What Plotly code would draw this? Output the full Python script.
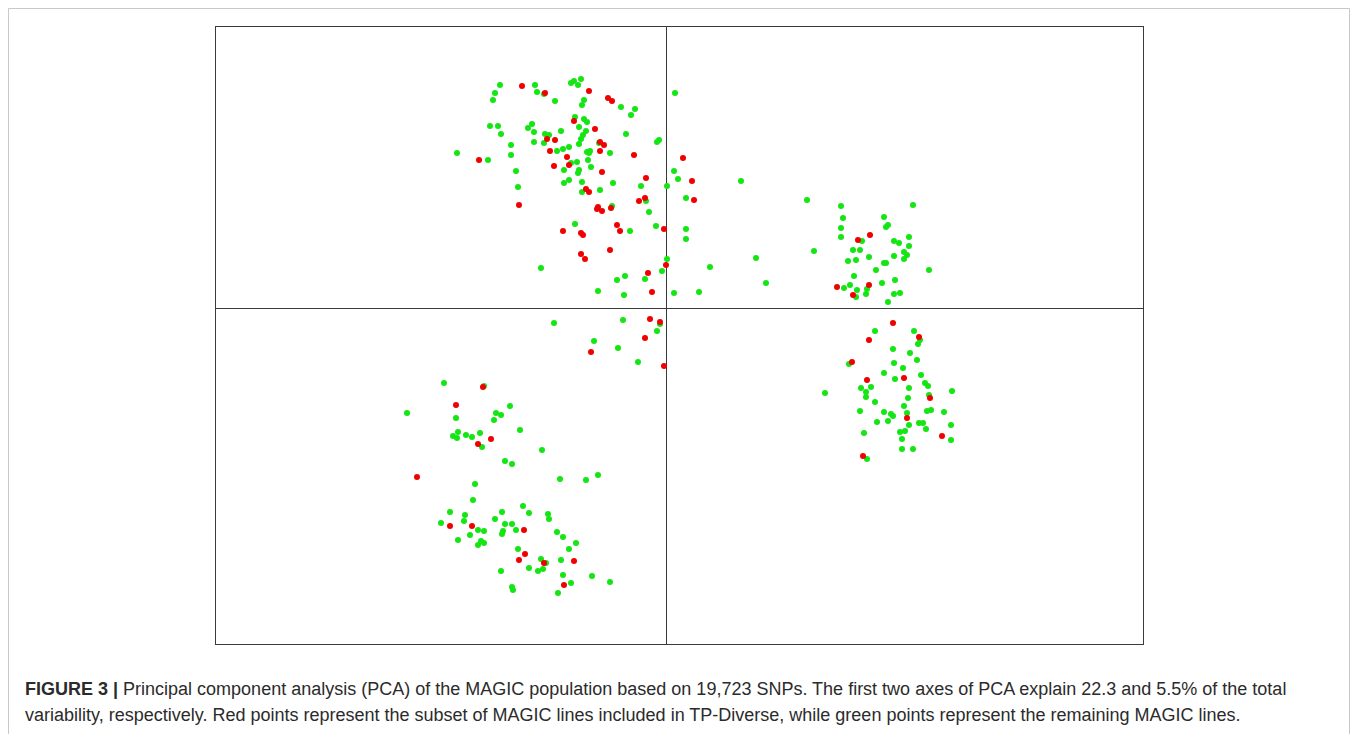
import plotly.graph_objects as go

# PCA scores (arbitrary units): PC1 horizontal, PC2 vertical
green_pc1_px = [500,495,493,535,537,544,555,571,574,581,578,584,582,575,584,587,490,498,501,532,528,534,545,549,561,579,586,583,581,579,534,544,511,511,457,488,557,563,569,587,588,577,571,564,579,578,516,518,569,564,582,
675,621,635,631,626,659,657,599,590,589,610,591,674,678,613,641,667,
600,582,646,612,649,656,630,686,686,686,667,710,662,625,617,645,598,624,674,699,575,541,
741,756,766,
554,623,660,657,594,618,638,
807,841,913,843,841,884,888,886,841,862,894,899,909,909,814,853,860,904,907,894,904,848,856,869,884,886,876,929,854,895,882,844,850,857,867,866,856,894,900,888,
875,914,920,918,893,910,917,894,849,903,884,895,921,925,928,861,871,866,866,909,929,908,825,952,875,904,860,884,891,893,907,927,931,944,877,888,909,919,923,951,864,900,905,926,902,951,902,913,867,
444,484,407,456,510,496,501,494,520,453,458,457,466,472,480,482,542,505,512,560,586,598,475,
473,450,465,464,441,523,529,502,495,505,512,548,549,478,484,503,502,516,470,458,481,484,478,557,563,576,569,518,541,546,561,529,543,538,501,592,610,563,571,512,513,558]
green_pc2_px = [85,93,100,85,92,94,101,83,81,79,85,100,105,117,119,122,126,126,134,124,128,132,134,135,131,127,131,135,139,144,142,143,145,155,153,160,151,149,147,152,160,162,163,170,170,173,171,187,180,183,182,
93,107,109,115,134,140,142,143,151,153,153,167,171,179,183,186,186,
190,192,201,206,212,226,231,198,229,239,259,267,271,276,280,279,291,295,293,292,224,268,
181,258,283,
323,320,324,331,341,348,362,
200,206,205,218,228,217,225,227,237,241,241,243,237,246,251,250,250,252,255,256,259,261,260,257,263,263,270,270,276,280,283,288,285,290,289,294,297,294,293,302,
331,331,340,344,349,353,360,363,364,368,373,379,375,383,386,388,387,392,397,388,395,398,393,391,402,406,411,412,414,416,413,411,410,412,422,421,425,423,423,425,433,432,431,429,439,440,449,449,459,
383,386,413,418,406,413,415,420,430,436,432,438,435,437,433,447,450,461,464,479,480,475,484,
500,512,515,521,523,506,513,512,519,524,524,514,519,530,531,531,534,530,535,540,541,543,545,532,537,543,549,549,559,563,560,568,569,571,571,576,582,575,583,587,590,593]

red_pc1_px = [522,545,589,574,555,547,550,567,569,554,479,586,589,
608,612,595,600,604,600,634,683,602,646,692,694,
519,639,645,598,597,602,611,617,620,664,581,583,563,610,581,585,666,648,652,
650,660,645,591,664,
870,858,837,869,853,
893,869,919,852,867,904,930,907,942,863,
483,456,491,478,417,
450,472,524,525,519,544,574,564]
red_pc2_px = [86,93,91,121,140,139,151,157,165,166,160,189,192,
98,101,129,142,145,151,155,158,172,178,181,200,
205,201,198,207,209,211,208,225,231,229,233,235,231,250,254,259,265,273,292,
319,322,338,352,366,
235,240,287,285,295,
323,340,337,362,380,378,398,418,436,456,
387,405,439,444,477,
526,526,530,554,560,563,561,585]

# convert picture readings to PC units (origin at the crosshair)
def to_pc1(v):
    return [(p - 666) / 10 for p in v]

def to_pc2(v):
    return [(308 - p) / 10 for p in v]

green_pc1 = to_pc1(green_pc1_px)
green_pc2 = to_pc2(green_pc2_px)
red_pc1 = to_pc1(red_pc1_px)
red_pc2 = to_pc2(red_pc2_px)

fig = go.Figure()
fig.add_trace(go.Scatter(x=green_pc1, y=green_pc2, mode="markers",
                         marker=dict(color="#14e614", size=6, line=dict(width=0)),
                         name="Remaining MAGIC lines", hoverinfo="skip"))
fig.add_trace(go.Scatter(x=red_pc1, y=red_pc2, mode="markers",
                         marker=dict(color="#f00000", size=6, line=dict(width=0)),
                         name="TP-Diverse", hoverinfo="skip"))

OFF = 8  # page body margin
W, H = 1350, 726
L, T = 216 - OFF, 27 - OFF
R = W - (1143 - OFF)
B = H - (644 - OFF)
pw, ph = W - L - R, H - T - B

def px_x(p):
    return (p - OFF - L) / pw

def px_y(p):
    return (H - B - (p - OFF)) / ph

fig.update_xaxes(range=[-45, 47.7], showgrid=False, showticklabels=False, ticks="",
                 zeroline=True, zerolinecolor="#3a3a3a", zerolinewidth=1,
                 showline=True, linecolor="#3a3a3a", linewidth=1, mirror=True)
fig.update_yaxes(range=[-33.6, 28.1], showgrid=False, showticklabels=False, ticks="",
                 zeroline=True, zerolinecolor="#3a3a3a", zerolinewidth=1,
                 showline=True, linecolor="#3a3a3a", linewidth=1, mirror=True)

# outer frame of the figure
fig.add_shape(type="rect", xref="paper", yref="paper",
              x0=px_x(8.5), x1=px_x(1349.5), y0=px_y(745), y1=px_y(8.5),
              line=dict(color="#c8c8c8", width=1), fillcolor="rgba(0,0,0,0)", layer="below")

cap_font = dict(family="Liberation Sans, Arial, sans-serif", size=18, color="#2b2b2b")
fig.add_annotation(xref="paper", yref="paper", x=px_x(23), y=px_y(689), xanchor="left", yanchor="middle",
                   showarrow=False, font=cap_font,
                   text="<b>FIGURE 3 |</b> Principal component analysis (PCA) of the MAGIC population based on 19,723 SNPs. The first two axes of PCA explain 22.3 and 5.5% of the total")
fig.add_annotation(xref="paper", yref="paper", x=px_x(23), y=px_y(715), xanchor="left", yanchor="middle",
                   showarrow=False, font=cap_font,
                   text="variability, respectively. Red points represent the subset of MAGIC lines included in TP-Diverse, while green points represent the remaining MAGIC lines.")

fig.update_layout(width=W, height=H, margin=dict(l=L, r=R, t=T, b=B),
                  plot_bgcolor="white", paper_bgcolor="white", showlegend=False)

fig.write_html("out.html")
